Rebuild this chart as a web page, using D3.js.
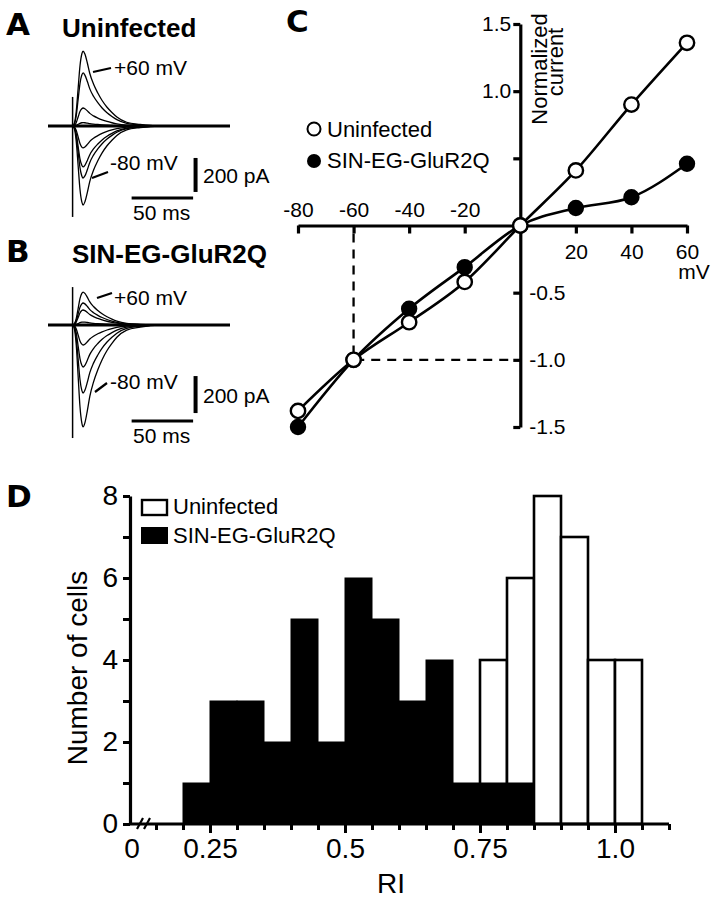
<!DOCTYPE html>
<html><head><meta charset="utf-8">
<script src="https://cdn.jsdelivr.net/npm/d3@7"></script>
<style>
html,body{margin:0;padding:0;background:#fff;}
svg text{font-family:"Liberation Sans",Arial,sans-serif;fill:#000;}
</style></head><body>
<svg id="fig" width="715" height="899"></svg>
<script>
// ---------- Panel C: I-V data ----------
const ivVoltages = [-80, -60, -40, -20, 0, 20, 40, 60];
const ivUninfected = [-1.38, -1.0, -0.72, -0.42, 0, 0.41, 0.90, 1.36];
const ivSIN = [-1.5, -1.0, -0.62, -0.31, 0, 0.13, 0.21, 0.46];
const ivXTicks = [-80, -60, -40, -20, 0, 20, 40, 60];
const ivYTicks = [-1.5, -1.0, -0.5, 0.5, 1.0, 1.5];

// ---------- Panel D: RI histogram ----------
const riBinStarts = [0.20, 0.25, 0.30, 0.35, 0.40, 0.45, 0.50, 0.55, 0.60, 0.65, 0.70, 0.75, 0.80, 0.85, 0.90, 0.95, 1.00];
const riSIN        = [1, 3, 3, 2, 5, 2, 6, 5, 3, 4, 1, 1, 1, 0, 0, 0, 0];
const riUninfected = [0, 0, 0, 0, 0, 0, 0, 0, 0, 0, 0, 4, 6, 8, 7, 4, 4];
const riBinWidth = 0.05;
const riMajorTicks = [0.25, 0.5, 0.75, 1.0];
const riMajorLabels = ["0.25", "0.5", "0.75", "1.0"];
const riMinorTicks = [0.15, 0.20, 0.30, 0.35, 0.40, 0.45, 0.55, 0.60, 0.65, 0.70, 0.80, 0.85, 0.90, 0.95, 1.05, 1.10];
const cellTicks = [0, 1, 2, 3, 4, 5, 6, 7, 8];

// ---------- Panels A/B: current traces ----------
const traceVoltages = [60, 40, 20, 0, -20, -40, -60, -80];
const traceAmpA = [441, 312, 106, 20, -129, -241, -306, -465];   // pA
const traceAmpB = [178, 119, 81, 16, -108, -227, -368, -551];    // pA
const kinT = [0, 1.5, 3, 4.5, 6, 7.5, 8.5, 10, 12, 14, 17, 20.5, 24, 28, 32, 36, 44, 55, 70]; // ms
const kinV = [0, 0.04, 0.2, 0.5, 0.8, 0.96, 1.0, 0.96, 0.84, 0.7, 0.56, 0.44, 0.34, 0.25, 0.18, 0.12, 0.05, 0.02, 0];
const traceWindow = [-20, 128]; // ms
const artifactA = [171, -535], artifactB = [205, -611]; // pA extent of stimulus artifact

const svg = d3.select("#fig");
const FONT = '"Liberation Sans",Arial,sans-serif';

function panelLetter(t, x, y) {
  svg.append("text").attr("x", x).attr("y", y).text(t)
    .style("font-family", '"DejaVu Sans",sans-serif').attr("font-weight", "bold").attr("font-size", 31);
}

// ================= Panels A & B =================
const xT = d3.scaleLinear().domain(traceWindow).range([48, 230]);
function tracePanel(amps, yS, artifact, barV, barH, labels) {
  const g = svg.append("g");
  const line = d3.line().x(d => xT(d[0])).y(d => yS(d[1])).curve(d3.curveMonotoneX);
  g.append("path").attr("d", line([[traceWindow[0], 0], [traceWindow[1], 0]]))
    .attr("stroke", "#000").attr("stroke-width", 3.2).attr("fill", "none");
  amps.forEach(a => {
    const pts = [[traceWindow[0], 0], [-0.5, 0]].concat(kinT.map((t, i) => [t, a * kinV[i]])).concat([[traceWindow[1], 0]]);
    g.append("path").attr("d", line(pts)).attr("stroke", "#000").attr("stroke-width", 1.3).attr("fill", "none");
  });
  g.append("line").attr("x1", xT(0)).attr("x2", xT(0)).attr("y1", yS(artifact[0])).attr("y2", yS(artifact[1]))
    .attr("stroke", "#000").attr("stroke-width", 1.5);
  g.append("line").attr("x1", xT(barV.t)).attr("x2", xT(barV.t)).attr("y1", yS(barV.p)).attr("y2", yS(barV.p + 200))
    .attr("stroke", "#000").attr("stroke-width", 4);
  g.append("line").attr("x1", xT(barH.t)).attr("x2", xT(barH.t + 50)).attr("y1", yS(barH.p)).attr("y2", yS(barH.p))
    .attr("stroke", "#000").attr("stroke-width", 3);
  labels.forEach(l => {
    g.append("text").attr("x", l.x).attr("y", l.y).attr("font-size", l.fs || 21).text(l.t);
    if (l.lead) g.append("line").attr("x1", l.lead[0]).attr("y1", l.lead[1]).attr("x2", l.lead[2]).attr("y2", l.lead[3])
      .attr("stroke", "#000").attr("stroke-width", 2.2);
  });
}

const yA = d3.scaleLinear().domain([0, 200]).range([126, 92]);
const yB = d3.scaleLinear().domain([0, 200]).range([325, 288]);

panelLetter("A", 6, 35);
svg.append("text").attr("x", 62).attr("y", 37).attr("font-size", 26).attr("font-weight", "bold").text("Uninfected");
tracePanel(traceAmpA, yA, artifactA, {t: 100, p: -388}, {t: 48, p: -424}, [
  {t: "+60 mV", x: 114, y: 75, lead: [93, 72, 111, 68]},
  {t: "-80 mV", x: 110, y: 170, lead: [92, 178, 108, 172]},
  {t: "200 pA", x: 203, y: 183},
  {t: "50 ms", x: 133, y: 220}
]);

panelLetter("B", 6, 262);
svg.append("text").attr("x", 72).attr("y", 263).attr("font-size", 26).attr("font-weight", "bold").text("SIN-EG-GluR2Q");
tracePanel(traceAmpB, yB, artifactB, {t: 100, p: -476}, {t: 48, p: -519}, [
  {t: "+60 mV", x: 114, y: 305, lead: [97, 298, 112, 293]},
  {t: "-80 mV", x: 110, y: 389, lead: [95, 392, 107, 383]},
  {t: "200 pA", x: 203, y: 403},
  {t: "50 ms", x: 133, y: 443}
]);

// ================= Panel C =================
panelLetter("C", 286, 32);
const xC = d3.scaleLinear().domain([-80, 60]).range([298, 687]);
const yC = d3.scaleLinear().domain([-1.5, 1.5]).range([427, 24]);

svg.append("path")
  .attr("d", `M${xC(-60)},${yC(0) + 8}L${xC(-60)},${yC(-1)}L${xC(0) - 8},${yC(-1)}`)
  .attr("fill", "none").attr("stroke", "#000").attr("stroke-width", 2.3).attr("stroke-dasharray", "9,7");

const gx = svg.append("g").attr("transform", `translate(0,${yC(0)})`)
  .call(d3.axisBottom(xC).tickValues(ivXTicks).tickSize(8).tickSizeOuter(0).tickFormat(d => d === 0 ? "" : String(d)));
gx.select(".domain").attr("stroke-width", 3.2);
gx.selectAll(".tick line").attr("stroke-width", 3.2);
gx.selectAll(".tick text").attr("font-size", 21).style("font-family", FONT).attr("dy", null)
  .attr("y", d => d < 0 ? -9 : 33);
svg.append("text").attr("x", 694).attr("y", 279).attr("text-anchor", "middle").attr("font-size", 21).text("mV");

const gy = svg.append("g").attr("transform", `translate(${xC(0)},0)`)
  .call(d3.axisLeft(yC).tickValues(ivYTicks).tickSize(7).tickSizeOuter(0)
    .tickFormat(d => d === 0.5 ? "" : d.toFixed(1)));
gy.select(".domain").attr("stroke-width", 3.2);
gy.selectAll(".tick line").attr("stroke-width", 3.2);
gy.selectAll(".tick text").attr("font-size", 21).style("font-family", FONT)
  .attr("x", d => d < 0 ? 9 : -9).attr("text-anchor", d => d < 0 ? "start" : "end");

svg.append("text").attr("transform", `translate(547,69) rotate(-90)`).attr("text-anchor", "middle").attr("font-size", 22).text("Normalized");
svg.append("text").attr("transform", `translate(563,62) rotate(-90)`).attr("text-anchor", "middle").attr("font-size", 22).text("current");

const ivData = (vals) => ivVoltages.map((v, i) => [v, vals[i]]);
const lineC = d3.line().x(d => xC(d[0])).y(d => yC(d[1])).curve(d3.curveMonotoneX);
svg.append("path").attr("d", lineC(ivData(ivSIN)))
  .attr("fill", "none").attr("stroke", "#000").attr("stroke-width", 2.6);
svg.append("path").attr("d", lineC(ivData(ivUninfected)))
  .attr("fill", "none").attr("stroke", "#000").attr("stroke-width", 2.6);
svg.selectAll(".ptS").data(ivData(ivSIN)).enter().append("circle")
  .attr("cx", d => xC(d[0])).attr("cy", d => yC(d[1])).attr("r", 7.2).attr("fill", "#000").attr("stroke", "#000").attr("stroke-width", 2);
svg.selectAll(".ptU").data(ivData(ivUninfected)).enter().append("circle")
  .attr("cx", d => xC(d[0])).attr("cy", d => yC(d[1])).attr("r", 7.2).attr("fill", "#fff").attr("stroke", "#000").attr("stroke-width", 2.4);

svg.append("circle").attr("cx", 314).attr("cy", 129).attr("r", 6.5).attr("fill", "#fff").attr("stroke", "#000").attr("stroke-width", 2);
svg.append("text").attr("x", 327).attr("y", 137).attr("font-size", 22).text("Uninfected");
svg.append("circle").attr("cx", 314).attr("cy", 161).attr("r", 7).attr("fill", "#000");
svg.append("text").attr("x", 327).attr("y", 168).attr("font-size", 22).text("SIN-EG-GluR2Q");

// ================= Panel D =================
panelLetter("D", 6, 507);
const xD = d3.scaleLinear().domain([0.25, 1.0]).range([210, 615]);
const yD = d3.scaleLinear().domain([0, 8]).range([824, 496]);
const axisLeftEnd = 130;

const bins = riBinStarts.map((b, i) => ({b, s: riSIN[i], u: riUninfected[i]}));
svg.selectAll(".barU").data(bins.filter(d => d.u > 0)).enter().append("rect")
  .attr("x", d => xD(d.b)).attr("width", d => xD(d.b + riBinWidth) - xD(d.b))
  .attr("y", d => yD(d.u)).attr("height", d => yD(0) - yD(d.u))
  .attr("fill", "#fff").attr("stroke", "#000").attr("stroke-width", 2.6);
svg.selectAll(".barS").data(bins.filter(d => d.s > 0)).enter().append("rect")
  .attr("x", d => xD(d.b)).attr("width", d => xD(d.b + riBinWidth) - xD(d.b))
  .attr("y", d => yD(d.s)).attr("height", d => yD(0) - yD(d.s))
  .attr("fill", "#000").attr("stroke", "#000").attr("stroke-width", 1);

svg.append("line").attr("x1", axisLeftEnd).attr("x2", xD(1.1)).attr("y1", yD(0)).attr("y2", yD(0))
  .attr("stroke", "#000").attr("stroke-width", 3.2);
const gxm = svg.append("g").attr("transform", `translate(0,${yD(0)})`)
  .call(d3.axisBottom(xD).tickValues(riMinorTicks).tickSize(6).tickSizeOuter(0).tickFormat(""));
gxm.select(".domain").remove();
gxm.selectAll(".tick line").attr("stroke-width", 3);
const gxM = svg.append("g").attr("transform", `translate(0,${yD(0)})`)
  .call(d3.axisBottom(xD).tickValues(riMajorTicks).tickSize(9).tickSizeOuter(0).tickFormat((d, i) => riMajorLabels[i]));
gxM.select(".domain").remove();
gxM.selectAll(".tick line").attr("stroke-width", 3);
gxM.selectAll(".tick text").attr("font-size", 28).style("font-family", FONT).attr("dy", null).attr("y", 34);
svg.append("text").attr("x", axisLeftEnd + 2).attr("y", yD(0) + 34).attr("text-anchor", "middle").attr("font-size", 28).text("0");
[137, 144].forEach(bx => svg.append("line").attr("x1", bx).attr("y1", yD(0) + 5).attr("x2", bx + 6).attr("y2", yD(0) - 6)
  .attr("stroke", "#000").attr("stroke-width", 2.2));

const gyD = svg.append("g").attr("transform", `translate(${axisLeftEnd},0)`)
  .call(d3.axisLeft(yD).tickValues(cellTicks).tickSize(7).tickSizeOuter(0).tickPadding(5)
    .tickFormat(d => d % 2 === 0 ? String(d) : ""));
gyD.select(".domain").attr("stroke-width", 3.2);
gyD.selectAll(".tick line").attr("stroke-width", 3);
gyD.selectAll(".tick text").attr("font-size", 28).style("font-family", FONT);

svg.append("text").attr("transform", `translate(87,${(yD(0) + yD(8)) / 2 + 8}) rotate(-90)`)
  .attr("text-anchor", "middle").attr("font-size", 28).text("Number of cells");
svg.append("text").attr("x", 391).attr("y", 893).attr("text-anchor", "middle").attr("font-size", 28).text("RI");

svg.append("rect").attr("x", 142).attr("y", 500).attr("width", 25).attr("height", 15)
  .attr("fill", "#fff").attr("stroke", "#000").attr("stroke-width", 2.4);
svg.append("text").attr("x", 173).attr("y", 514).attr("font-size", 22).text("Uninfected");
svg.append("rect").attr("x", 141).attr("y", 527).attr("width", 27).attr("height", 17).attr("fill", "#000");
svg.append("text").attr("x", 173).attr("y", 543).attr("font-size", 22).text("SIN-EG-GluR2Q");
</script>
</body></html>
